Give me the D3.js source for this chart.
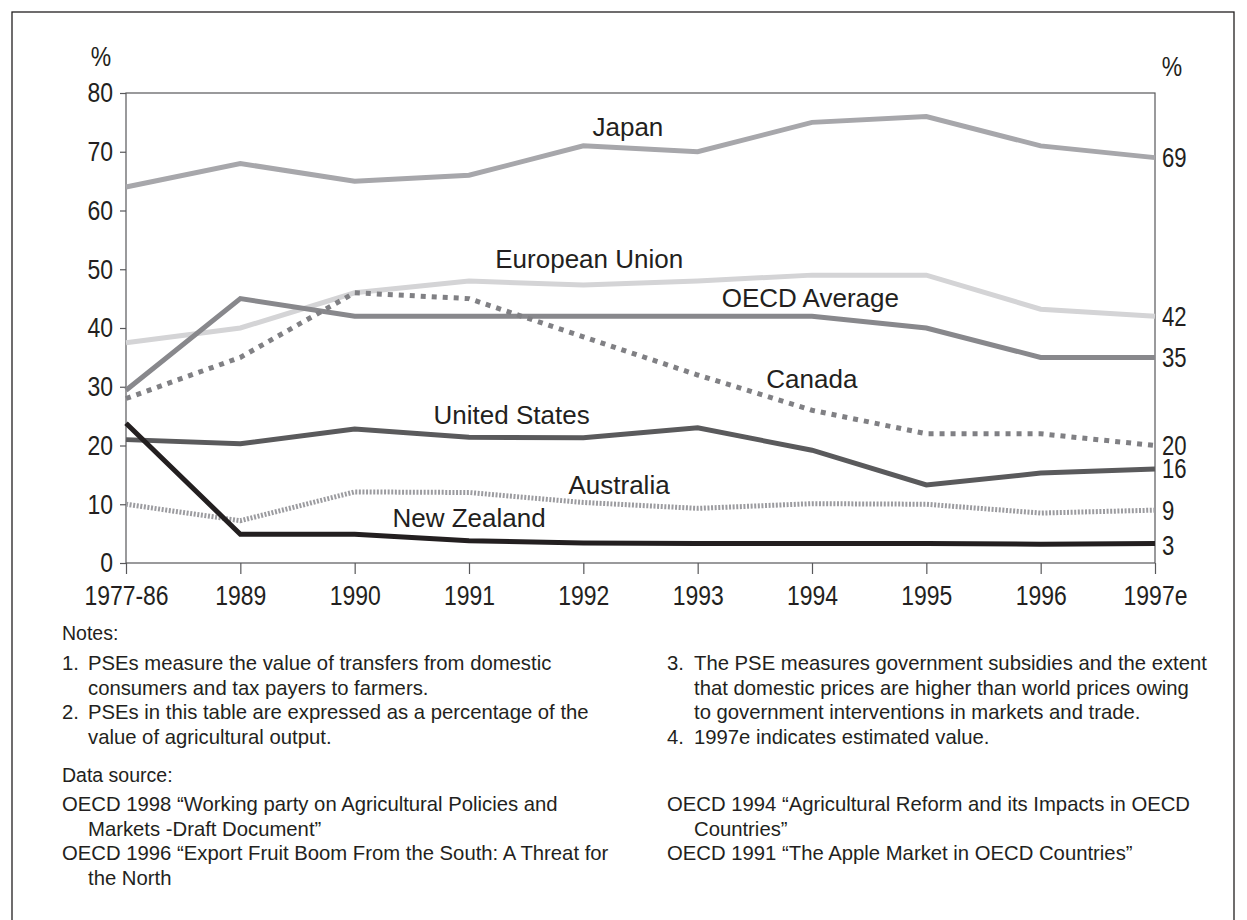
<!DOCTYPE html>
<html>
<head>
<meta charset="utf-8">
<script src="https://cdn.jsdelivr.net/npm/d3@7"></script>
<style>
body { margin: 0; background: #fff; }
svg { display: block; }
text { font-family: "Liberation Sans", Arial, Helvetica, sans-serif; fill: #231f20; }
</style>
</head>
<body>
<div id="chart"></div>
<script>
// categories and series (PSE, % of agricultural output)
const years = ["1977-86", "1989", "1990", "1991", "1992", "1993", "1994", "1995", "1996", "1997e"];
const japan      = [64, 68, 65, 66, 71, 70, 75, 76, 71, 69];
const eu         = [37.5, 40, 46, 48, 47.3, 48, 49, 49, 43.2, 42];
const oecd       = [29.4, 45, 42, 42, 42, 42, 42, 40, 35, 35];
const canada     = [28, 35, 46, 45, 38.5, 32, 26, 22, 22, 20];
const usa        = [21, 20.3, 22.8, 21.4, 21.3, 23, 19.2, 13.3, 15.3, 16];
const australia  = [10, 7.2, 12.1, 12, 10.3, 9.3, 10.1, 10, 8.5, 9];
const newZealand = [23.8, 4.9, 4.9, 3.8, 3.4, 3.3, 3.3, 3.3, 3.2, 3.3];
const endLabels  = ["69", "42", "35", "20", "16", "9", "3"];
const yTicks     = [0, 10, 20, 30, 40, 50, 60, 70, 80];

const notesLeft = [
  ["1.", "PSEs measure the value of transfers from domestic", "consumers and tax payers to farmers."],
  ["2.", "PSEs in this table are expressed as a percentage of the", "value of agricultural output."]
];
const notesRight = [
  ["3.", "The PSE measures government subsidies and the extent", "that domestic prices are higher than world prices owing", "to government interventions in markets and trade."],
  ["4.", "1997e indicates estimated value."]
];
const sourcesLeft = [
  ["OECD 1998 \u201cWorking party on Agricultural Policies and", "Markets -Draft Document\u201d"],
  ["OECD 1996 \u201cExport Fruit Boom From the South: A Threat for", "the North"]
];
const sourcesRight = [
  ["OECD 1994 \u201cAgricultural Reform and its Impacts in OECD", "Countries\u201d"],
  ["OECD 1991 \u201cThe Apple Market in OECD Countries\u201d"]
];

const W = 1247, H = 920;
const svg = d3.select("#chart").append("svg").attr("width", W).attr("height", H);

// condensed look for the numbers: squeeze text horizontally
const K = 0.82;
function narrow(sel) {
  sel.each(function() {
    const t = d3.select(this);
    t.attr("x", (+t.attr("x") || 0) / K).attr("transform", "scale(" + K + ",1)");
  });
  return sel;
}

// outer frame
svg.append("rect").attr("x", 12).attr("y", 12).attr("width", 1222).attr("height", 940)
  .attr("fill", "none").attr("stroke", "#231f20").attr("stroke-width", 1.3);

const pLeft = 126, pRight = 1155, pTop = 93, pBottom = 563;
const x = d3.scalePoint().domain(years).range([pLeft, pRight]);
const xi = d3.scaleLinear().domain([0, years.length - 1]).range([pLeft, pRight]);
const y = d3.scaleLinear().domain([0, 80]).range([pBottom, pTop]);

// plot box
svg.append("rect").attr("x", pLeft).attr("y", pTop).attr("width", pRight - pLeft).attr("height", pBottom - pTop)
  .attr("fill", "none").attr("stroke", "#58585a").attr("stroke-width", 1.2);

// axes
const yAxis = svg.append("g").attr("transform", "translate(" + pLeft + ",0)")
  .call(d3.axisLeft(y).tickValues(yTicks).tickSize(6).tickPadding(7));
const xAxis = svg.append("g").attr("transform", "translate(0," + pBottom + ")")
  .call(d3.axisBottom(x).tickSize(11).tickPadding(11));
[yAxis, xAxis].forEach(a => {
  a.select(".domain").remove();
  a.selectAll(".tick line").attr("stroke", "#58585a").attr("stroke-width", 1.2);
  a.selectAll(".tick text").attr("font-family", null).attr("font-size", 28).attr("fill", "#231f20")
    .call(narrow);
});

// percent signs
svg.append("text").attr("x", 101).attr("y", 66).attr("text-anchor", "middle")
  .attr("font-size", 28).text("%").call(narrow);
svg.append("text").attr("x", 1172).attr("y", 76).attr("text-anchor", "middle")
  .attr("font-size", 28).text("%").call(narrow);

// series, in drawing order
const series = [
  { name: "European Union", values: eu,         color: "#d4d4d6", dash: null,  lab: [3.23, 50.2] },
  { name: "Japan",          values: japan,      color: "#a7a7ab", dash: null,  lab: [4.08, 72.7] },
  { name: "OECD Average",   values: oecd,       color: "#88888c", dash: null,  lab: [5.21, 43.6] },
  { name: "Canada",         values: canada,     color: "#808084", dash: "5,6", lab: [5.60, 29.8] },
  { name: "United States",  values: usa,        color: "#5a5a5c", dash: null,  lab: [2.69, 23.7] },
  { name: "Australia",      values: australia,  color: "#9c9ca0", dash: "2,1.6", lab: [3.87, 11.7] },
  { name: "New Zealand",    values: newZealand, color: "#231f20", dash: null,  lab: [2.33, 6.1] }
];

const line = d3.line().x((d, i) => x(years[i])).y(d => y(d));

svg.append("g").selectAll("path").data(series).enter().append("path")
  .attr("d", d => line(d.values))
  .attr("fill", "none")
  .attr("stroke", d => d.color)
  .attr("stroke-width", 5)
  .attr("stroke-dasharray", d => d.dash)
  .attr("stroke-linejoin", "miter");

// series labels
svg.append("g").selectAll("text").data(series).enter().append("text")
  .attr("x", d => xi(d.lab[0]))
  .attr("y", d => y(d.lab[1]))
  .attr("font-size", 26)
  .text(d => d.name);

// end values on the right
svg.append("g").selectAll("text").data(endLabels).enter().append("text")
  .attr("x", pRight + 7)
  .attr("y", d => y(+d))
  .attr("dy", "0.35em")
  .attr("font-size", 27)
  .text(d => d)
  .call(narrow);

// notes
const txt = (xp, yp, s) => svg.append("text").attr("x", xp).attr("y", yp)
  .attr("font-size", 20.3).text(s);
const lineH = 24.5;

txt(62, 640, "Notes:").attr("font-size", 19.5);
let yy = 670;
notesLeft.forEach(n => {
  txt(62, yy, n[0]);
  n.slice(1).forEach(s => { txt(88, yy, s); yy += lineH; });
});
yy = 670;
notesRight.forEach(n => {
  txt(667, yy, n[0]);
  n.slice(1).forEach(s => { txt(694, yy, s); yy += lineH; });
});

txt(62, 782, "Data source:").attr("font-size", 19.5);
yy = 811;
sourcesLeft.forEach(s => {
  s.forEach((t, i) => { txt(i ? 88 : 62, yy, t); yy += lineH; });
});
yy = 811;
sourcesRight.forEach(s => {
  s.forEach((t, i) => { txt(i ? 694 : 667, yy, t); yy += lineH; });
});
</script>
</body>
</html>
